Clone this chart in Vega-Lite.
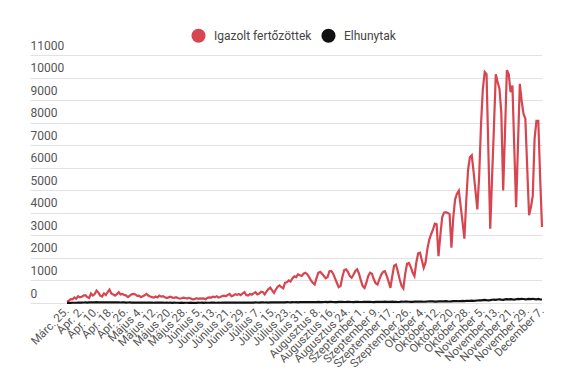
{
  "$schema": "https://vega.github.io/schema/vega-lite/v6.json",
  "width": 512,
  "height": 248,
  "autosize": "none",
  "padding": {"left": 30, "top": 55, "right": 33, "bottom": 84},
  "background": "white",
  "config": {"view": {"stroke": null}, "font": "Roboto"},
  "data": {"values": [
    {"d":"2020-03-25","f":60,"h":5},{"d":"2020-03-26","f":100,"h":7},{"d":"2020-03-27","f":170,"h":8},{"d":"2020-03-28","f":160,"h":10},{"d":"2020-03-29","f":250,"h":12},{"d":"2020-03-30","f":190,"h":11},{"d":"2020-03-31","f":300,"h":15},
    {"d":"2020-04-01","f":250,"h":18},{"d":"2020-04-02","f":280,"h":20},{"d":"2020-04-03","f":330,"h":22},{"d":"2020-04-04","f":350,"h":25},{"d":"2020-04-05","f":260,"h":19},{"d":"2020-04-06","f":220,"h":24},{"d":"2020-04-07","f":420,"h":30},{"d":"2020-04-08","f":330,"h":28},{"d":"2020-04-09","f":400,"h":26},{"d":"2020-04-10","f":550,"h":35},
    {"d":"2020-04-11","f":460,"h":32},{"d":"2020-04-12","f":330,"h":28},{"d":"2020-04-13","f":290,"h":25},{"d":"2020-04-14","f":420,"h":30},{"d":"2020-04-15","f":350,"h":33},{"d":"2020-04-16","f":480,"h":27},{"d":"2020-04-17","f":590,"h":29},{"d":"2020-04-18","f":420,"h":31},{"d":"2020-04-19","f":380,"h":28},{"d":"2020-04-20","f":330,"h":24},
    {"d":"2020-04-21","f":390,"h":26},{"d":"2020-04-22","f":480,"h":30},{"d":"2020-04-23","f":380,"h":22},{"d":"2020-04-24","f":400,"h":27},{"d":"2020-04-25","f":360,"h":25},{"d":"2020-04-26","f":330,"h":20},{"d":"2020-04-27","f":260,"h":23},{"d":"2020-04-28","f":330,"h":26},{"d":"2020-04-29","f":390,"h":21},{"d":"2020-04-30","f":400,"h":19},
    {"d":"2020-05-01","f":380,"h":22},{"d":"2020-05-02","f":320,"h":18},{"d":"2020-05-03","f":330,"h":20},{"d":"2020-05-04","f":260,"h":15},{"d":"2020-05-05","f":300,"h":17},{"d":"2020-05-06","f":340,"h":19},{"d":"2020-05-07","f":400,"h":21},{"d":"2020-05-08","f":330,"h":16},{"d":"2020-05-09","f":290,"h":14},{"d":"2020-05-10","f":260,"h":18},
    {"d":"2020-05-11","f":240,"h":12},{"d":"2020-05-12","f":290,"h":15},{"d":"2020-05-13","f":250,"h":17},{"d":"2020-05-14","f":330,"h":13},{"d":"2020-05-15","f":280,"h":16},{"d":"2020-05-16","f":300,"h":14},{"d":"2020-05-17","f":250,"h":11},{"d":"2020-05-18","f":220,"h":15},{"d":"2020-05-19","f":250,"h":12},{"d":"2020-05-20","f":280,"h":14},
    {"d":"2020-05-21","f":240,"h":10},{"d":"2020-05-22","f":230,"h":13},{"d":"2020-05-23","f":260,"h":11},{"d":"2020-05-24","f":220,"h":12},{"d":"2020-05-25","f":190,"h":9},{"d":"2020-05-26","f":210,"h":14},{"d":"2020-05-27","f":240,"h":10},{"d":"2020-05-28","f":220,"h":12},{"d":"2020-05-29","f":200,"h":11},{"d":"2020-05-30","f":230,"h":9},{"d":"2020-05-31","f":200,"h":13},
    {"d":"2020-06-01","f":160,"h":10},{"d":"2020-06-02","f":170,"h":12},{"d":"2020-06-03","f":210,"h":9},{"d":"2020-06-04","f":180,"h":14},{"d":"2020-06-05","f":200,"h":11},{"d":"2020-06-06","f":190,"h":13},{"d":"2020-06-07","f":200,"h":10},{"d":"2020-06-08","f":170,"h":15},{"d":"2020-06-09","f":230,"h":12},{"d":"2020-06-10","f":250,"h":11},
    {"d":"2020-06-11","f":240,"h":14},{"d":"2020-06-12","f":280,"h":16},{"d":"2020-06-13","f":260,"h":13},{"d":"2020-06-14","f":300,"h":12},{"d":"2020-06-15","f":240,"h":15},{"d":"2020-06-16","f":270,"h":11},{"d":"2020-06-17","f":310,"h":17},{"d":"2020-06-18","f":330,"h":14},{"d":"2020-06-19","f":300,"h":16},{"d":"2020-06-20","f":360,"h":13},
    {"d":"2020-06-21","f":400,"h":18},{"d":"2020-06-22","f":300,"h":15},{"d":"2020-06-23","f":330,"h":14},{"d":"2020-06-24","f":390,"h":17},{"d":"2020-06-25","f":360,"h":19},{"d":"2020-06-26","f":400,"h":16},{"d":"2020-06-27","f":350,"h":18},{"d":"2020-06-28","f":420,"h":20},{"d":"2020-06-29","f":480,"h":17},{"d":"2020-06-30","f":350,"h":19},
    {"d":"2020-07-01","f":330,"h":21},{"d":"2020-07-02","f":400,"h":18},{"d":"2020-07-03","f":370,"h":23},{"d":"2020-07-04","f":430,"h":20},{"d":"2020-07-05","f":480,"h":25},{"d":"2020-07-06","f":380,"h":22},{"d":"2020-07-07","f":420,"h":19},{"d":"2020-07-08","f":500,"h":24},{"d":"2020-07-09","f":480,"h":27},{"d":"2020-07-10","f":380,"h":23},
    {"d":"2020-07-11","f":520,"h":26},{"d":"2020-07-12","f":620,"h":21},{"d":"2020-07-13","f":680,"h":28},{"d":"2020-07-14","f":560,"h":25},{"d":"2020-07-15","f":450,"h":30},{"d":"2020-07-16","f":600,"h":27},{"d":"2020-07-17","f":720,"h":24},{"d":"2020-07-18","f":780,"h":29},{"d":"2020-07-19","f":700,"h":32},{"d":"2020-07-20","f":650,"h":26},
    {"d":"2020-07-21","f":900,"h":31},{"d":"2020-07-22","f":920,"h":35},{"d":"2020-07-23","f":1000,"h":33},{"d":"2020-07-24","f":950,"h":30},{"d":"2020-07-25","f":1100,"h":36},{"d":"2020-07-26","f":1180,"h":34},{"d":"2020-07-27","f":1150,"h":38},{"d":"2020-07-28","f":1270,"h":32},{"d":"2020-07-29","f":1230,"h":40},{"d":"2020-07-30","f":1200,"h":37},{"d":"2020-07-31","f":1300,"h":35},
    {"d":"2020-08-01","f":1340,"h":38},{"d":"2020-08-02","f":1280,"h":42},{"d":"2020-08-03","f":1150,"h":36},{"d":"2020-08-04","f":1000,"h":40},{"d":"2020-08-05","f":900,"h":45},{"d":"2020-08-06","f":820,"h":39},{"d":"2020-08-07","f":1100,"h":43},{"d":"2020-08-08","f":1340,"h":47},{"d":"2020-08-09","f":1380,"h":41},{"d":"2020-08-10","f":1300,"h":38},
    {"d":"2020-08-11","f":1200,"h":44},{"d":"2020-08-12","f":1100,"h":48},{"d":"2020-08-13","f":1150,"h":42},{"d":"2020-08-14","f":1410,"h":46},{"d":"2020-08-15","f":1420,"h":50},{"d":"2020-08-16","f":1300,"h":45},{"d":"2020-08-17","f":1100,"h":40},{"d":"2020-08-18","f":900,"h":43},{"d":"2020-08-19","f":700,"h":47},{"d":"2020-08-20","f":750,"h":52},
    {"d":"2020-08-21","f":1150,"h":49},{"d":"2020-08-22","f":1460,"h":44},{"d":"2020-08-23","f":1490,"h":46},{"d":"2020-08-24","f":1380,"h":51},{"d":"2020-08-25","f":1200,"h":48},{"d":"2020-08-26","f":1120,"h":45},{"d":"2020-08-27","f":1250,"h":42},{"d":"2020-08-28","f":1420,"h":50},{"d":"2020-08-29","f":1490,"h":53},{"d":"2020-08-30","f":1300,"h":47},{"d":"2020-08-31","f":1000,"h":44},
    {"d":"2020-09-01","f":750,"h":46},{"d":"2020-09-02","f":670,"h":50},{"d":"2020-09-03","f":900,"h":55},{"d":"2020-09-04","f":1200,"h":48},{"d":"2020-09-05","f":1340,"h":52},{"d":"2020-09-06","f":1300,"h":45},{"d":"2020-09-07","f":1050,"h":42},{"d":"2020-09-08","f":880,"h":49},{"d":"2020-09-09","f":820,"h":56},{"d":"2020-09-10","f":1050,"h":51},
    {"d":"2020-09-11","f":1250,"h":47},{"d":"2020-09-12","f":1380,"h":53},{"d":"2020-09-13","f":1410,"h":58},{"d":"2020-09-14","f":1200,"h":50},{"d":"2020-09-15","f":950,"h":46},{"d":"2020-09-16","f":670,"h":52},{"d":"2020-09-17","f":1200,"h":57},{"d":"2020-09-18","f":1650,"h":54},{"d":"2020-09-19","f":1700,"h":49},{"d":"2020-09-20","f":1400,"h":45},
    {"d":"2020-09-21","f":1050,"h":51},{"d":"2020-09-22","f":760,"h":60},{"d":"2020-09-23","f":640,"h":55},{"d":"2020-09-24","f":1300,"h":58},{"d":"2020-09-25","f":1740,"h":62},{"d":"2020-09-26","f":1780,"h":56},{"d":"2020-09-27","f":1600,"h":50},{"d":"2020-09-28","f":1350,"h":53},{"d":"2020-09-29","f":1190,"h":59},{"d":"2020-09-30","f":1800,"h":64},
    {"d":"2020-10-01","f":2200,"h":60},{"d":"2020-10-02","f":2230,"h":58},{"d":"2020-10-03","f":1900,"h":63},{"d":"2020-10-04","f":1560,"h":55},{"d":"2020-10-05","f":1800,"h":57},{"d":"2020-10-06","f":2400,"h":66},{"d":"2020-10-07","f":2800,"h":70},{"d":"2020-10-08","f":3050,"h":68},{"d":"2020-10-09","f":3250,"h":72},{"d":"2020-10-10","f":3520,"h":65},
    {"d":"2020-10-11","f":3490,"h":61},{"d":"2020-10-12","f":2080,"h":69},{"d":"2020-10-13","f":3000,"h":75},{"d":"2020-10-14","f":3800,"h":78},{"d":"2020-10-15","f":4010,"h":74},{"d":"2020-10-16","f":4030,"h":80},{"d":"2020-10-17","f":3990,"h":71},{"d":"2020-10-18","f":3940,"h":67},{"d":"2020-10-19","f":2450,"h":76},{"d":"2020-10-20","f":3800,"h":85},
    {"d":"2020-10-21","f":4600,"h":82},{"d":"2020-10-22","f":4850,"h":88},{"d":"2020-10-23","f":4980,"h":79},{"d":"2020-10-24","f":4300,"h":84},{"d":"2020-10-25","f":3600,"h":90},{"d":"2020-10-26","f":2850,"h":86},{"d":"2020-10-27","f":4500,"h":95},{"d":"2020-10-28","f":5900,"h":100},{"d":"2020-10-29","f":6460,"h":92},{"d":"2020-10-30","f":6550,"h":105},{"d":"2020-10-31","f":5800,"h":98},
    {"d":"2020-11-01","f":5000,"h":102},{"d":"2020-11-02","f":4150,"h":110},{"d":"2020-11-03","f":5600,"h":120},{"d":"2020-11-04","f":7900,"h":115},{"d":"2020-11-05","f":9500,"h":128},{"d":"2020-11-06","f":10250,"h":135},{"d":"2020-11-07","f":10150,"h":125},{"d":"2020-11-08","f":6700,"h":118},{"d":"2020-11-09","f":3300,"h":130},{"d":"2020-11-10","f":5600,"h":145},
    {"d":"2020-11-11","f":7800,"h":150},{"d":"2020-11-12","f":10150,"h":140},{"d":"2020-11-13","f":9800,"h":155},{"d":"2020-11-14","f":9500,"h":162},{"d":"2020-11-15","f":8400,"h":148},{"d":"2020-11-16","f":4990,"h":138},{"d":"2020-11-17","f":7600,"h":160},{"d":"2020-11-18","f":10330,"h":170},{"d":"2020-11-19","f":10150,"h":165},{"d":"2020-11-20","f":9350,"h":175},
    {"d":"2020-11-21","f":9650,"h":158},{"d":"2020-11-22","f":6900,"h":150},{"d":"2020-11-23","f":4250,"h":168},{"d":"2020-11-24","f":7000,"h":180},{"d":"2020-11-25","f":9720,"h":172},{"d":"2020-11-26","f":8960,"h":185},{"d":"2020-11-27","f":8390,"h":178},{"d":"2020-11-28","f":8170,"h":165},{"d":"2020-11-29","f":6000,"h":170},{"d":"2020-11-30","f":3890,"h":182},
    {"d":"2020-12-01","f":4250,"h":175},{"d":"2020-12-02","f":4750,"h":188},{"d":"2020-12-03","f":7300,"h":170},{"d":"2020-12-04","f":8080,"h":165},{"d":"2020-12-05","f":8080,"h":178},{"d":"2020-12-06","f":5550,"h":160},{"d":"2020-12-07","f":3370,"h":155}
  ]},
  "transform": [{"fold": ["f", "h"], "as": ["k", "v"]}],
  "mark": {"type": "line", "strokeWidth": 2.2, "interpolate": "linear"},
  "encoding": {
    "x": {
      "field": "d",
      "type": "temporal",
      "scale": {
        "type": "utc",
        "domain": [
          {"year": 2020, "month": 3, "date": 5, "utc": true},
          {"year": 2020, "month": 12, "date": 7, "utc": true}
        ]
      },
      "axis": {
        "title": null,
        "grid": false,
        "domain": false,
        "ticks": false,
        "tickSize": 0,
        "labelAngle": -45,
        "labelAlign": "right",
        "labelBaseline": "middle",
        "labelPadding": 6,
        "labelFontSize": 11.5,
        "labelColor": "#555555",
        "labelOverlap": false,
        "labelFlush": false,
        "values": [
          {"year": 2020, "month": 3, "date": 25, "utc": true},
          {"year": 2020, "month": 4, "date": 2, "utc": true},
          {"year": 2020, "month": 4, "date": 10, "utc": true},
          {"year": 2020, "month": 4, "date": 18, "utc": true},
          {"year": 2020, "month": 4, "date": 26, "utc": true},
          {"year": 2020, "month": 5, "date": 4, "utc": true},
          {"year": 2020, "month": 5, "date": 12, "utc": true},
          {"year": 2020, "month": 5, "date": 20, "utc": true},
          {"year": 2020, "month": 5, "date": 28, "utc": true},
          {"year": 2020, "month": 6, "date": 5, "utc": true},
          {"year": 2020, "month": 6, "date": 13, "utc": true},
          {"year": 2020, "month": 6, "date": 21, "utc": true},
          {"year": 2020, "month": 6, "date": 29, "utc": true},
          {"year": 2020, "month": 7, "date": 7, "utc": true},
          {"year": 2020, "month": 7, "date": 15, "utc": true},
          {"year": 2020, "month": 7, "date": 23, "utc": true},
          {"year": 2020, "month": 7, "date": 31, "utc": true},
          {"year": 2020, "month": 8, "date": 8, "utc": true},
          {"year": 2020, "month": 8, "date": 16, "utc": true},
          {"year": 2020, "month": 8, "date": 24, "utc": true},
          {"year": 2020, "month": 9, "date": 1, "utc": true},
          {"year": 2020, "month": 9, "date": 9, "utc": true},
          {"year": 2020, "month": 9, "date": 17, "utc": true},
          {"year": 2020, "month": 9, "date": 26, "utc": true},
          {"year": 2020, "month": 10, "date": 4, "utc": true},
          {"year": 2020, "month": 10, "date": 12, "utc": true},
          {"year": 2020, "month": 10, "date": 20, "utc": true},
          {"year": 2020, "month": 10, "date": 28, "utc": true},
          {"year": 2020, "month": 11, "date": 5, "utc": true},
          {"year": 2020, "month": 11, "date": 13, "utc": true},
          {"year": 2020, "month": 11, "date": 21, "utc": true},
          {"year": 2020, "month": 11, "date": 29, "utc": true},
          {"year": 2020, "month": 12, "date": 7, "utc": true}
        ],
        "labelExpr": "['Jan.','Febr.','Márc.','Ápr.','Május','Június','Július','Augusztus','Szeptember','Október','November','December'][utcmonth(datum.value)] + ' ' + utcdate(datum.value) + '.'"
      }
    },
    "y": {
      "field": "v",
      "type": "quantitative",
      "scale": {"domain": [0, 11000], "nice": false},
      "axis": {
        "title": null,
        "values": [0, 1000, 2000, 3000, 4000, 5000, 6000, 7000, 8000, 9000, 10000, 11000],
        "format": "d",
        "grid": true,
        "gridColor": "#e2e2e2",
        "gridWidth": 1,
        "domain": false,
        "ticks": false,
        "tickSize": 0,
        "labelAlign": "left",
        "labelBaseline": "bottom",
        "labelPadding": 0,
        "labelOffset": -3,
        "labelFontSize": 12,
        "labelColor": "#555555",
        "labelFlush": false,
        "labelOverlap": false
      }
    },
    "color": {
      "field": "k",
      "type": "nominal",
      "scale": {"domain": ["f", "h"], "range": ["#d64550", "#111111"]},
      "legend": {
        "orient": "none",
        "legendX": 161,
        "legendY": -27,
        "direction": "horizontal",
        "title": null,
        "symbolType": "circle",
        "symbolSize": 200,
        "symbolStrokeWidth": 0,
        "labelFontSize": 12,
        "labelColor": "#444444",
        "labelOffset": 8,
        "columnPadding": 9,
        "padding": 0,
        "labelExpr": "datum.label == 'f' ? 'Igazolt fertőzöttek' : 'Elhunytak'",
        "encode": {
          "symbols": {"update": {"fill": {"scale": "color", "field": "value"}, "strokeWidth": {"value": 0}}}
        }
      }
    }
  }
}
